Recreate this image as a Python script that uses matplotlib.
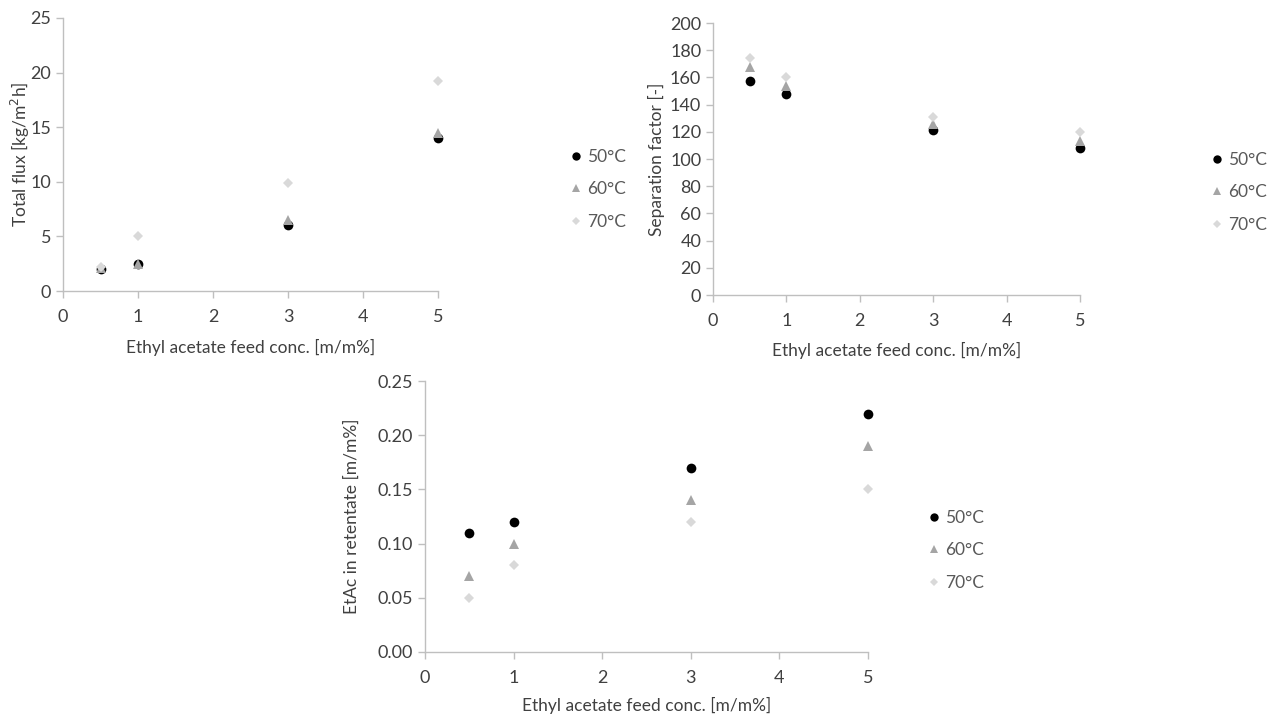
import matplotlib
matplotlib.use("Agg")
import matplotlib.pyplot as plt
from matplotlib.lines import Line2D

plt.rcParams["font.family"] = ["Lato", "DejaVu Sans"]

# ─── data ────────────────────────────────────────────────────────────────────
feed_conc = [0.5, 1, 3, 5]
temps     = ["50°C", "60°C", "70°C"]

flux_50 = [2.0, 2.5, 6.0, 14.0]
flux_60 = [2.1, 2.5, 6.5, 14.5]
flux_70 = [2.2, 5.0, 9.9, 19.2]

sep_50 = [157, 148, 121, 108]
sep_60 = [168, 154, 126, 113]
sep_70 = [174, 160, 131, 120]

ret_50 = [0.11, 0.12, 0.17, 0.22]
ret_60 = [0.07, 0.10, 0.14, 0.19]
ret_70 = [0.05, 0.08, 0.12, 0.15]

# ─── style ───────────────────────────────────────────────────────────────────
COLORS  = ["#000000", "#a5a5a5", "#d9d9d9"]
MARKERS = ["o", "^", "D"]
SIZES   = [7, 7, 5]
LSIZES  = [6, 6, 4.5]
AXCOL   = "#bfbfbf"
W, H = 1277, 720

fig = plt.figure(figsize=(W / 100, H / 100), dpi=100)


def add_panel(px_box, series, ylim, yticks, yfmt, ylabel, leg_xy, ylab_x, xlab_y):
    l, r, t, b = px_box
    ax = fig.add_axes([l / W, 1 - b / H, (r - l) / W, (b - t) / H])
    for vals, c, m, s in zip(series, COLORS, MARKERS, SIZES):
        ax.plot(feed_conc, vals, linestyle="none", marker=m, color=c,
                markersize=s, markeredgewidth=0, clip_on=False)
    ax.set_xlim(0, 5)
    ax.set_ylim(*ylim)
    ax.set_xticks(range(6))
    ax.set_yticks(yticks)
    ax.set_yticklabels([yfmt.format(v) for v in yticks])
    for side in ["top", "right"]:
        ax.spines[side].set_visible(False)
    for side in ["left", "bottom"]:
        ax.spines[side].set_color(AXCOL)
        ax.spines[side].set_linewidth(1.0)
    ax.tick_params(direction="out", length=5, width=1, color=AXCOL,
                   labelcolor="#404040", labelsize=13)
    ax.tick_params(axis="x", pad=8)
    ax.set_xlabel("Ethyl acetate feed conc. [m/m%]", fontsize=12.5,
                  color="#404040")
    ax.set_ylabel(ylabel, fontsize=12.5, color="#404040")
    ax.yaxis.set_label_coords((ylab_x - l) / (r - l), 0.5)
    ax.xaxis.set_label_coords(0.5, (b - xlab_y) / (b - t))
    ax.xaxis.label.set_va("center")
    ax.yaxis.label.set_va("center")

    handles = [Line2D([], [], linestyle="none", marker=m, color=c,
                      markersize=s, markeredgewidth=0)
               for c, m, s in zip(COLORS, MARKERS, LSIZES)]
    ax.legend(handles, temps, loc="upper left",
              bbox_to_anchor=(leg_xy[0] / W, 1 - leg_xy[1] / H),
              bbox_transform=fig.transFigure, frameon=False,
              fontsize=12.5, labelcolor="#595959", handletextpad=0.25,
              handlelength=0.8, labelspacing=0.95, borderpad=0)
    return ax


add_panel((63, 438, 18, 291), [flux_50, flux_60, flux_70],
          (0, 25), range(0, 26, 5), "{:d}",
          "Total flux [kg/m$^2$h]", (560, 140), 20, 347)

add_panel((713, 1080, 23, 295), [sep_50, sep_60, sep_70],
          (0, 200), range(0, 201, 20), "{:d}",
          "Separation factor [-]", (1201, 143), 656, 350)

add_panel((425, 868, 381, 652), [ret_50, ret_60, ret_70],
          (0, 0.25), [0, 0.05, 0.10, 0.15, 0.20, 0.25], "{:.2f}",
          "EtAc in retentate [m/m%]", (918, 501), 352, 705)

fig.savefig("out.png", dpi=100)
